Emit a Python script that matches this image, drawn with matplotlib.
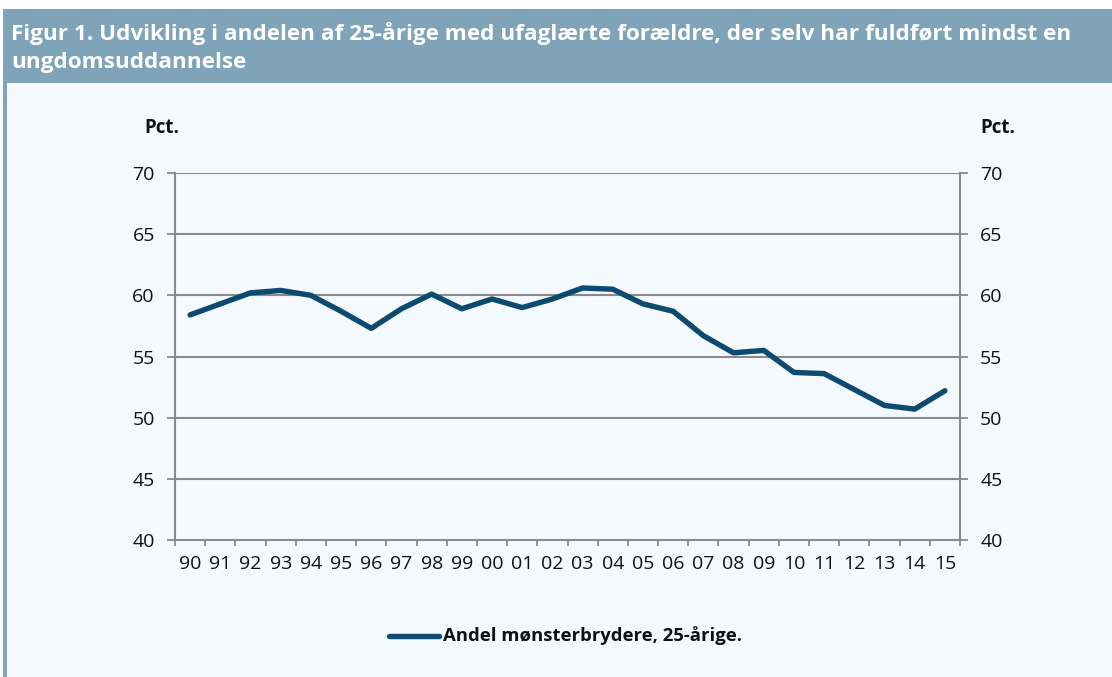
import matplotlib
matplotlib.use("Agg")
import matplotlib.pyplot as plt
from matplotlib.patches import Rectangle
from matplotlib.lines import Line2D

years = ["90", "91", "92", "93", "94", "95", "96", "97", "98", "99", "00", "01", "02",
         "03", "04", "05", "06", "07", "08", "09", "10", "11", "12", "13", "14", "15"]
share = [58.4, 59.3, 60.2, 60.4, 60.0, 58.7, 57.3, 58.9, 60.1, 58.9, 59.7, 59.0, 59.7,
         60.6, 60.5, 59.3, 58.7, 56.7, 55.3, 55.5, 53.7, 53.6, 52.3, 51.0, 50.7, 52.2]
yticks = [40, 45, 50, 55, 60, 65, 70]
title = "Figur 1. Udvikling i andelen af 25-årige med ufaglærte forældre, der selv har fuldført mindst en\nungdomsuddannelse"
series_label = "Andel mønsterbrydere, 25-årige."

W, H = 1112, 677
plt.rcParams['font.family'] = ['Open Sans', 'DejaVu Sans']
fig = plt.figure(figsize=(W / 100, H / 100), dpi=100)
fig.patch.set_facecolor("white")

def fx(px):
    return px / W

def fy(py):
    return 1 - py / H

band_col = "#7fa3b8"
bg_col = "#f4f9fd"
line_col = "#0d4a6f"
axis_col = "#8a8a8a"

# background panel
fig.patches.append(Rectangle((fx(3), 0), 1 - fx(3), fy(83), transform=fig.transFigure,
                             facecolor=bg_col, edgecolor="none", zorder=-2))
# header band
fig.patches.append(Rectangle((fx(3), fy(83)), 1 - fx(3), fy(9) - fy(83), transform=fig.transFigure,
                             facecolor=band_col, edgecolor="none", zorder=-2))
# left strip
fig.patches.append(Rectangle((fx(3), 0), fx(4), fy(83), transform=fig.transFigure,
                             facecolor=band_col, edgecolor="none", zorder=-2))

fig.text(fx(11), fy(47.5), title, color="white", fontsize=16.2, fontweight="bold",
         va="center", ha="left", linespacing=1.42)

ax = fig.add_axes([fx(175), fy(540), fx(960) - fx(175), fy(173) - fy(540)])
ax.set_zorder(2)
ax.set_facecolor(bg_col)
x = list(range(len(years)))
ax.plot(x, share, color=line_col, lw=3.9, solid_capstyle="round", solid_joinstyle="round",
        zorder=3)
ax.set_xlim(-0.5, len(years) - 0.5)
ax.set_ylim(40, 70)
ax.set_yticks(yticks)
ax.set_xticks(x)
ax.set_xticklabels(years)
for y in yticks[1:]:
    ax.axhline(y, color=axis_col, lw=1.5, zorder=1)
ax.spines["top"].set_visible(False)
for s in ["left", "right", "bottom"]:
    ax.spines[s].set_color(axis_col)
    ax.spines[s].set_linewidth(1.5)
ax.tick_params(axis="y", which="both", left=True, right=True, labelleft=True, labelright=True,
               direction="out", length=5.5, width=1.3, color=axis_col, labelsize=14, pad=9,
               labelcolor="#111111")
ax.tick_params(axis="x", which="major", length=0, labelsize=14, pad=11, labelcolor="#111111")
ax.set_xticks([i - 0.5 for i in range(len(years) + 1)], minor=True)
ax.tick_params(axis="x", which="minor", direction="out", length=4.5, width=1.3, color=axis_col)

fig.text(fx(162), fy(128), "Pct.", fontsize=13.5, fontweight="bold", ha="center", va="center",
         color="#111111")
fig.text(fx(998), fy(128), "Pct.", fontsize=13.5, fontweight="bold", ha="center", va="center",
         color="#111111")

# legend
fig.lines.append(Line2D([fx(389), fx(439)], [fy(636), fy(636)], transform=fig.transFigure,
                        color=line_col, lw=3.9, solid_capstyle="round"))
fig.text(fx(443), fy(636), series_label, fontsize=13.3, fontweight="bold", ha="left",
         va="center", color="#111111")

fig.savefig("out.png", dpi=100, facecolor=fig.get_facecolor())
